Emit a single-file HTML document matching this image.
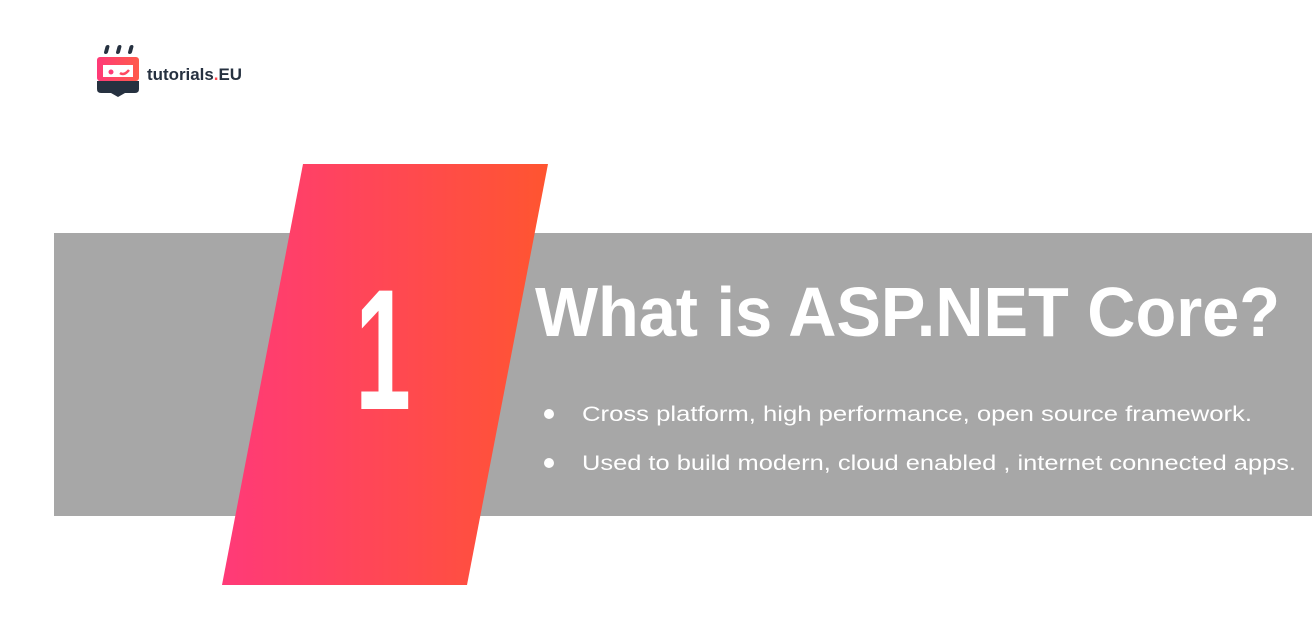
<!DOCTYPE html>
<html><head><meta charset="utf-8"><style>
html,body{margin:0;padding:0;background:#fff;width:1312px;height:633px;overflow:hidden}
</style></head><body>
<svg width="1312" height="633" viewBox="0 0 1312 633" xmlns="http://www.w3.org/2000/svg">
<defs>
<linearGradient id="g" x1="222" y1="0" x2="548" y2="0" gradientUnits="userSpaceOnUse">
<stop offset="0" stop-color="#ff3a78"/><stop offset="1" stop-color="#ff5530"/>
</linearGradient>
<linearGradient id="lg" x1="0" y1="0" x2="1" y2="0">
<stop offset="0" stop-color="#ff3a78"/><stop offset="1" stop-color="#ff5a4a"/>
</linearGradient>
</defs>
<rect x="54" y="233" width="1258" height="283" fill="#a7a7a7"/>
<polygon points="303,164 548,164 467,585 222,585" fill="url(#g)"/>
<text x="383" y="409" text-anchor="middle" font-family="Liberation Sans, sans-serif" font-weight="bold" font-size="172" fill="#fff" textLength="56" lengthAdjust="spacingAndGlyphs">1</text>
<text x="535" y="336" font-family="Liberation Sans, sans-serif" font-weight="bold" font-size="70" fill="#fff" textLength="745" lengthAdjust="spacingAndGlyphs">What is ASP.NET Core?</text>
<circle cx="549" cy="414" r="5" fill="#fff"/>
<circle cx="549" cy="463" r="5" fill="#fff"/>
<text x="582" y="421" font-family="Liberation Sans, sans-serif" font-size="21" fill="#fff" textLength="670" lengthAdjust="spacingAndGlyphs">Cross platform, high performance, open source framework.</text>
<text x="582" y="470" font-family="Liberation Sans, sans-serif" font-size="21" fill="#fff" textLength="714" lengthAdjust="spacingAndGlyphs">Used to build modern, cloud enabled , internet connected apps.</text>
<!-- logo -->
<g>
<rect x="104" y="45" width="4" height="9" rx="2" fill="#263140" transform="skewX(-15) translate(14,0)"/>
<rect x="116" y="45" width="4" height="9" rx="2" fill="#263140" transform="skewX(-15) translate(14,0)"/>
<rect x="128" y="45" width="4" height="9" rx="2" fill="#263140" transform="skewX(-15) translate(14,0)"/>
<rect x="97" y="57" width="42" height="24" rx="3" fill="url(#lg)"/>
<rect x="103" y="65" width="30" height="12" fill="#fff"/>
<circle cx="111" cy="72" r="2.5" fill="#ff3a78"/>
<path d="M120 73 q4 3 9 -3" stroke="#ff4a60" stroke-width="2.5" fill="none"/>
<path d="M97 81 h42 v8 q0 4 -4 4 h-10 l-7 4 l-7 -4 h-10 q-4 0 -4 -4 z" fill="#263140"/>
<text x="147" y="80" font-family="Liberation Sans, sans-serif" font-weight="bold" font-size="17" fill="#263140" textLength="95" lengthAdjust="spacingAndGlyphs">tutorials<tspan fill="#ff4a50">.</tspan>EU</text>
</g>
</svg>
</body></html>
